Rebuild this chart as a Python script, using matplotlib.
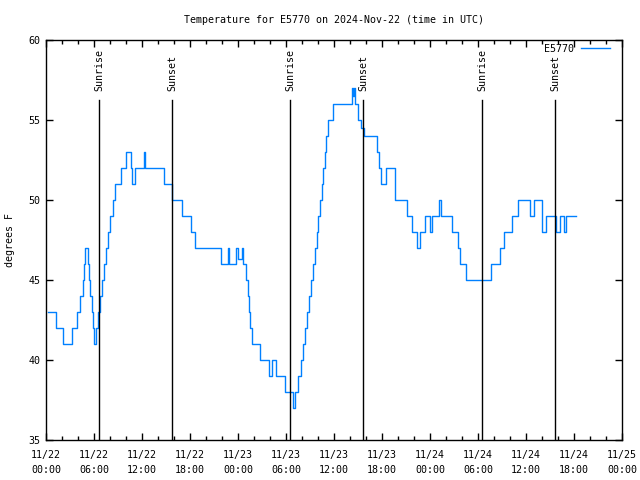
from datetime import datetime, timedelta
import matplotlib
matplotlib.use('Agg')
import matplotlib.pyplot as plt
import matplotlib.dates as mdates

# hours since 2024-11-22 00:00 UTC where the reading changes, and the reading (deg F)
hours = [0.2, 1.2, 2.1, 3.3, 3.9, 4.2, 4.6, 4.75, 4.9, 5.2, 5.4, 5.55, 5.7, 5.85, 6.0,
         6.2, 6.45, 6.75, 7.0, 7.25, 7.5, 7.75, 8.0, 8.4, 8.65, 9.4, 10.0, 10.6, 10.75,
         11.15, 12.2, 12.4, 14.75, 15.8, 16.95, 18.1, 18.6, 21.9, 22.7, 22.85, 23.75,
         23.95, 24.5, 24.65, 25.0, 25.2, 25.4, 25.55, 25.75, 26.7, 27.9, 28.3, 28.7,
         29.85, 30.9, 31.15, 31.5, 31.85, 32.1, 32.35, 32.65, 32.9, 33.15, 33.4, 33.6,
         33.85, 34.05, 34.25, 34.45, 34.65, 34.85, 35.05, 35.3, 35.9, 38.2, 38.35, 38.45,
         38.6, 38.95, 39.4, 39.7, 41.35, 41.65, 41.9, 42.55, 43.6, 45.1, 45.8, 46.4,
         46.75, 47.35, 48.0, 48.3, 49.15, 49.35, 50.8, 51.5, 51.8, 52.5, 55.6, 56.75,
         57.3, 58.25, 59.05, 60.5, 61.0, 62.0, 62.5, 63.75, 64.3, 64.8, 65.05, 66.3]
temps = [43, 42, 41, 42, 43, 44, 45, 46, 47, 46, 45, 44, 43, 42, 41,
         42, 43, 44, 45, 46, 47, 48, 49, 50, 51, 52, 53, 52, 51,
         52, 53, 52, 51, 50, 49, 48, 47, 46, 47, 46, 47,
         46.3, 47, 46, 45, 44, 43, 42, 41, 40, 39, 40, 39,
         38, 37, 38, 39, 40, 41, 42, 43, 44, 45, 46, 47,
         48, 49, 50, 51, 52, 53, 54, 55, 56, 57, 56.5, 57,
         56, 55, 54.5, 54, 53, 52, 51, 52, 50, 49, 48, 47,
         48, 49, 48, 49, 50, 49, 48, 47, 46, 45, 46, 47,
         48, 49, 50, 49, 50, 48, 49, 48, 49, 48, 49, 49]

sunrise_h = [6.65, 30.55, 54.55]
sunset_h = [15.8, 39.65, 63.65]

station = 'E5770'
start = datetime(2024, 11, 22)
times = [start + timedelta(hours=h) for h in hours]

plt.rcParams['font.family'] = 'DejaVu Sans Mono'
plt.rcParams['font.size'] = 7.2

fig = plt.figure(figsize=(6.4, 4.8), dpi=100)
ax = fig.add_axes([46/640, 40/480, 576/640, 400/480])

ax.plot(times, temps, drawstyle='steps-post', color='#0080ff', linewidth=1, label=station)

for h, name in [(h, 'Sunrise') for h in sunrise_h] + [(h, 'Sunset') for h in sunset_h]:
    t = start + timedelta(hours=h)
    ax.axvline(t, ymin=0, ymax=0.85, color='black', linewidth=1)
    ax.text(t, 56.8, name, rotation=90, ha='center', va='bottom')

ax.set_xlim(start, start + timedelta(hours=72))
ax.set_ylim(35, 60)
ax.set_yticks([35, 40, 45, 50, 55, 60])
ax.xaxis.set_major_locator(mdates.HourLocator(byhour=[0, 6, 12, 18]))
ax.xaxis.set_minor_locator(mdates.HourLocator(interval=2))
ax.xaxis.set_major_formatter(mdates.DateFormatter('%m/%d\n%H:%M'))
for lab in ax.get_xticklabels():
    lab.set_linespacing(1.6)
ax.tick_params(which='both', direction='in', top=True, right=True, width=1)
ax.tick_params(which='major', length=5, pad=4)
ax.tick_params(axis='x', which='major', pad=7)
ax.tick_params(which='minor', length=3)
for s in ax.spines.values():
    s.set_linewidth(1)

ax.set_ylabel('degrees F', labelpad=10)
ax.set_title('Temperature for %s on 2024-Nov-22 (time in UTC)' % station,
             fontsize=7.2, pad=12)
ax.legend(loc='upper right', bbox_to_anchor=(1 - 12/576, 1 - 4/400), frameon=False,
          handlelength=2.9, borderaxespad=0, borderpad=0,
          markerfirst=False, handletextpad=0.7)

fig.savefig('out.png', dpi=100)
